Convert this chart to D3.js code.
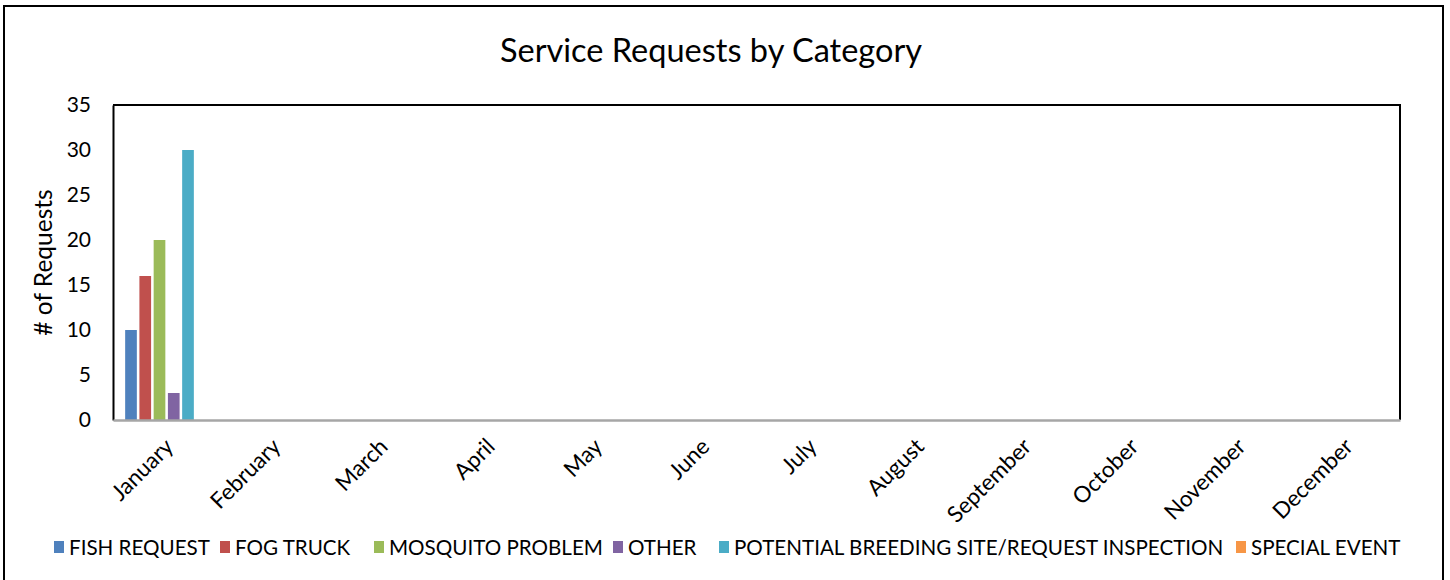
<!DOCTYPE html>
<html><head><meta charset="utf-8">
<script src="https://cdn.jsdelivr.net/npm/d3@7"></script>
<style>html,body{margin:0;padding:0;background:#fff;} svg{display:block;}</style>
</head><body>
<svg id="chart" width="1450" height="580"></svg>
<script>
const months = ["January","February","March","April","May","June","July","August","September","October","November","December"];
const seriesNames = ["FISH REQUEST","FOG TRUCK","MOSQUITO PROBLEM","OTHER","POTENTIAL BREEDING SITE/REQUEST INSPECTION","SPECIAL EVENT"];
const fishRequest       = [10,0,0,0,0,0,0,0,0,0,0,0];
const fogTruck          = [16,0,0,0,0,0,0,0,0,0,0,0];
const mosquitoProblem   = [20,0,0,0,0,0,0,0,0,0,0,0];
const other             = [3,0,0,0,0,0,0,0,0,0,0,0];
const breedingSite      = [30,0,0,0,0,0,0,0,0,0,0,0];
const specialEvent      = [0,0,0,0,0,0,0,0,0,0,0,0];
const yTicks = [0,5,10,15,20,25,30,35];
const colors = ["#4F81BD","#C0504D","#9BBB59","#8064A2","#4BACC6","#F79646"];

const values = [fishRequest, fogTruck, mosquitoProblem, other, breedingSite, specialEvent];
const FONT = "Lato, 'Open Sans', sans-serif";
const svg = d3.select("#chart");

// outer border
svg.append("rect").attr("x",4).attr("y",6).attr("width",1439).attr("height",590)
  .attr("fill","#fff").attr("stroke","#000").attr("stroke-width",2);

const L=113, R=1400, T=105, B=420;
const x0 = d3.scaleBand().domain(months).range([L,R]).padding(0);
const x1 = d3.scaleBand().domain(seriesNames).range([0,x0.bandwidth()]).paddingInner(0.18).paddingOuter(0.853);
const y = d3.scaleLinear().domain([0,35]).range([B,T]);

// plot border
svg.append("path").attr("d",`M${L},${T}H${R}V${B}`).attr("fill","none").attr("stroke","#000").attr("stroke-width",2);

// bars
const rows = months.map((m,i)=>({m, vals: seriesNames.map((s,j)=>({s, v: values[j][i], c: colors[j]}))}));
const g = svg.append("g");
g.selectAll("g.m").data(rows).join("g").attr("transform",d=>`translate(${x0(d.m)},0)`)
 .selectAll("rect").data(d=>d.vals).join("rect")
 .attr("x",d=>x1(d.s)).attr("width",x1.bandwidth())
 .attr("y",d=>y(d.v)).attr("height",d=>y(0)-y(d.v)).attr("fill",d=>d.c);

// y axis
const ya = svg.append("g").attr("transform",`translate(${L},0)`)
  .call(d3.axisLeft(y).tickValues(yTicks).tickSize(0).tickPadding(22));
ya.select(".domain").attr("stroke","#000").attr("stroke-width",2);
ya.selectAll("text").attr("font-family",FONT).attr("font-size",21).attr("fill","#000");

// x axis
const xa = svg.append("g").attr("transform",`translate(0,${B})`)
  .call(d3.axisBottom(x0).tickSize(0).tickPadding(0));
xa.select(".domain").attr("stroke","#A6A6A6").attr("stroke-width",2.5);
xa.selectAll("text").attr("font-family",FONT).attr("font-size",22.5).attr("fill","#000")
  .attr("text-anchor","end").attr("dy",0)
  .attr("transform","translate(8,28) rotate(-45)");

// title
svg.append("text").attr("x",711).attr("y",62).attr("text-anchor","middle")
  .attr("font-family",FONT).attr("font-size",32.5).attr("fill","#000").text("Service Requests by Category");

// y title
svg.append("text").attr("transform",`translate(52,${(T+B)/2}) rotate(-90)`).attr("text-anchor","middle")
  .attr("font-family",FONT).attr("font-size",24.5).attr("fill","#000").text("# of Requests");

// legend
const legStarts = [54,220,374,613,719,1236];
const leg = svg.append("g");
seriesNames.forEach((s,i)=>{
  const lg = leg.append("g").attr("transform",`translate(${legStarts[i]},547)`);
  lg.append("rect").attr("x",0).attr("y",-6).attr("width",10).attr("height",12).attr("fill",colors[i]);
  lg.append("text").attr("x",15).attr("y",7.5).attr("font-family",FONT).attr("font-size",20.6).attr("fill","#000").text(s);
});
</script>
</body></html>
